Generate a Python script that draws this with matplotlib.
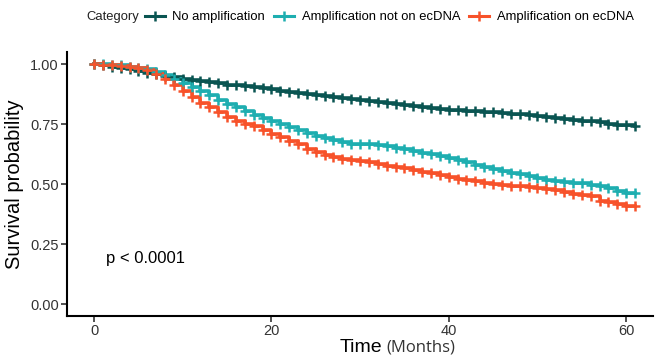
import matplotlib
matplotlib.use("Agg")
import matplotlib.pyplot as plt
from matplotlib.lines import Line2D

plt.rcParams['font.family'] = ['Liberation Sans', 'DejaVu Sans']

# survival probability, one value per month
months = list(range(0, 62))
no_amp = [1.000, 0.995, 0.990, 0.985, 0.978, 0.970, 0.965, 0.958, 0.952, 0.946,
          0.940, 0.935, 0.930, 0.925, 0.920, 0.915, 0.911, 0.907, 0.903, 0.899,
          0.895, 0.890, 0.885, 0.880, 0.875, 0.870, 0.866, 0.862, 0.858, 0.854,
          0.850, 0.846, 0.842, 0.838, 0.834, 0.830, 0.826, 0.822, 0.818, 0.814,
          0.810, 0.808, 0.806, 0.804, 0.802, 0.800, 0.797, 0.794, 0.791, 0.788,
          0.785, 0.781, 0.777, 0.773, 0.769, 0.765, 0.761, 0.757, 0.752, 0.748,
          0.745, 0.744]
amp_not_ec = [1.000, 1.000, 0.998, 0.995, 0.990, 0.985, 0.978, 0.968, 0.955, 0.940,
              0.922, 0.905, 0.888, 0.870, 0.852, 0.835, 0.820, 0.805, 0.790, 0.776,
              0.763, 0.750, 0.738, 0.725, 0.712, 0.700, 0.692, 0.685, 0.675, 0.668,
              0.665, 0.665, 0.664, 0.660, 0.652, 0.645, 0.638, 0.630, 0.625, 0.618,
              0.610, 0.600, 0.590, 0.580, 0.572, 0.564, 0.556, 0.548, 0.540, 0.532,
              0.524, 0.518, 0.512, 0.508, 0.506, 0.504, 0.498, 0.490, 0.482, 0.472,
              0.462, 0.462]
amp_ec = [1.000, 0.998, 0.995, 0.993, 0.990, 0.985, 0.975, 0.960, 0.940, 0.915,
          0.890, 0.865, 0.840, 0.820, 0.800, 0.780, 0.765, 0.752, 0.740, 0.725,
          0.710, 0.695, 0.680, 0.665, 0.648, 0.635, 0.622, 0.612, 0.605, 0.600,
          0.597, 0.590, 0.583, 0.577, 0.571, 0.565, 0.558, 0.552, 0.545, 0.536,
          0.528, 0.522, 0.518, 0.512, 0.506, 0.502, 0.498, 0.494, 0.490, 0.487,
          0.485, 0.480, 0.474, 0.468, 0.460, 0.454, 0.450, 0.430, 0.424, 0.418,
          0.410, 0.408]

labels = ['No amplification', 'Amplification not on ecDNA', 'Amplification on ecDNA']
colors = ['#0a5552', '#1eaeb0', '#f7522a']
series = [no_amp, amp_not_ec, amp_ec]

fig = plt.figure(figsize=(6.6, 3.62), dpi=100)
ax = fig.add_axes([0.1015, 0.127, 0.888, 0.729])

for vals, col in zip(series, colors):
    ax.step(months, vals, where='post', color=col, lw=2.6, zorder=2)
    ax.plot(months, vals, ls='none', marker='+', ms=7, mew=1.8, color=col, zorder=3)

ax.set_xlim(-3.05, 63.04)
ax.set_ylim(-0.05, 1.05)
ax.set_xticks([0, 20, 40, 60])
ax.set_yticks([0, 0.25, 0.5, 0.75, 1.0])
ax.set_yticklabels(['0.00', '0.25', '0.50', '0.75', '1.00'])
ax.tick_params(labelsize=10.5, labelcolor='#333333', length=4, width=1.2, color='#333333', pad=2)
for s in ['top', 'right']:
    ax.spines[s].set_visible(False)
for s in ['left', 'bottom']:
    ax.spines[s].set_linewidth(1.5)

ax.set_ylabel('Survival probability', fontsize=14.5)
ax.yaxis.set_label_coords(-0.074, 0.5)

# x label: "Time" plus a lighter "(Months)"
fig.text(340 / 660, 1 - 348 / 362, 'Time', fontsize=14, ha='left', va='center')
fig.text(455 / 660, 1 - 348 / 362, '(Months)', fontsize=12, ha='right', va='center',
         family=['Open Sans', 'DejaVu Sans'], color='#333333')

ax.text(1.3, 0.19, 'p < 0.0001', fontsize=12, va='center', ha='left')

handles = [Line2D([0], [0], color=c, lw=2.2, marker='+', ms=7, mew=1.8) for c in colors]
fig.text(86 / 660, 1 - 17 / 362, 'Category', fontsize=9.4, va='center', ha='left', color='#222222')
fig.legend(handles, labels, loc='center left', bbox_to_anchor=(145 / 660, 1 - 17 / 362), ncol=3,
           frameon=False, fontsize=9.4, handlelength=1.5, handletextpad=0.6,
           columnspacing=0.7, borderaxespad=0, borderpad=0)

fig.savefig('out.png', dpi=100)
